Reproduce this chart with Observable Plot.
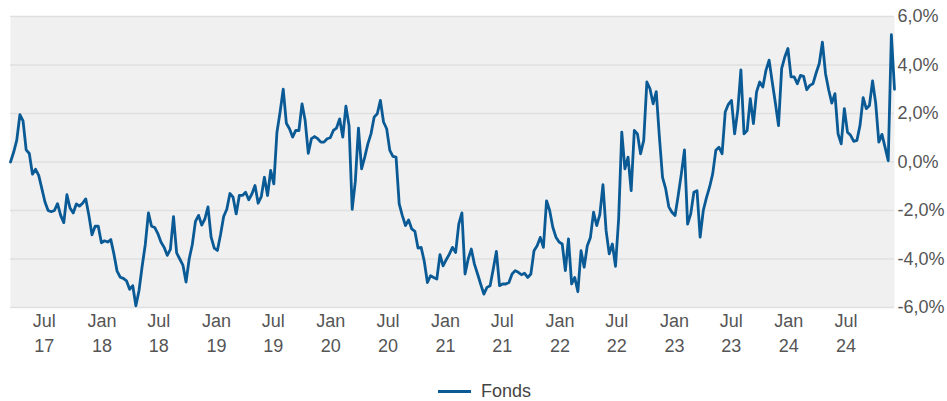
<!DOCTYPE html>
<html>
<head>
<meta charset="utf-8">
<script src="https://cdn.jsdelivr.net/npm/d3@7"></script>
<script src="https://cdn.jsdelivr.net/npm/@observablehq/plot@0.6"></script>
<style>
  html, body { margin: 0; padding: 0; background: #fff; }
  #chart { width: 947px; height: 372px; }
  .legend { height: 18px; line-height: 18px; padding-top: 10px; display: flex; justify-content: center; align-items: center; padding-left: 22px;
            font-family: "Liberation Sans", Arial, sans-serif; font-size: 18px; color: #444; }
  .legend .sw { width: 33px; height: 3px; background: #0a5a96; margin-right: 10px; }
</style>
</head>
<body>
<div id="chart"></div>
<div class="legend"><span class="sw"></span><span>Fonds</span></div>
<script>
// Series: "Fonds", one reading every 10 days starting 2017-03-15 (values in %)
const seriesName = "Fonds";
const startDate = "2017-03-15";
const stepDays = 10;
const fondsValues = [
  0.0, 0.4, 0.9, 1.95, 1.7, 0.5, 0.35, -0.5, -0.3, -0.55,
  -1.1, -1.65, -2.0, -2.05, -2.0, -1.72, -2.2, -2.5, -1.35, -1.9,
  -2.1, -1.73, -1.82, -1.7, -1.52, -2.2, -3.0, -2.65, -2.65, -3.33,
  -3.25, -3.3, -3.2, -3.8, -4.5, -4.75, -4.8, -4.9, -5.25, -5.1,
  -5.93, -5.3, -4.3, -3.4, -2.1, -2.65, -2.7, -2.95, -3.3, -3.52,
  -3.85, -3.6, -2.25, -3.75, -4.0, -4.25, -4.95, -4.0, -3.4, -2.45,
  -2.2, -2.6, -2.35, -1.85, -3.1, -3.55, -3.65, -3.0, -2.25, -1.95,
  -1.3, -1.45, -2.14, -1.38, -1.38, -1.25, -1.56, -1.32, -0.97, -1.7,
  -1.43, -0.63, -1.38, -0.35, -0.9, 1.23, 2.06, 3.0, 1.6, 1.37,
  1.03, 1.3, 1.3, 2.4, 1.71, 0.36, 0.96, 1.05, 0.96, 0.82,
  0.82, 0.96, 1.0, 1.3, 1.4, 1.78, 1.03, 2.3, 1.5, -1.95,
  -0.8, 1.4, -0.28, 0.2, 0.75, 1.16, 1.85, 1.99, 2.54, 1.65,
  1.37, 0.48, 0.23, 0.2, -1.73, -2.21, -2.62, -2.39, -2.76, -2.86,
  -3.55, -3.52, -4.1, -4.97, -4.69, -4.76, -4.83, -3.82, -4.28, -4.03,
  -3.8, -3.52, -3.73, -2.56, -2.1, -4.62, -4.0, -3.59, -4.21, -4.62,
  -5.04, -5.45, -5.17, -5.1, -4.41, -3.69, -5.1, -5.03, -5.03, -4.97,
  -4.62, -4.48, -4.55, -4.65, -4.59, -4.76, -4.62, -3.66, -3.45, -3.11,
  -3.52, -1.6, -2.0, -2.69, -3.1, -3.3, -3.38, -4.48, -3.17, -5.03,
  -4.76, -5.35, -3.66, -4.34, -3.45, -3.11, -2.07, -2.62, -2.17, -0.93,
  -2.83, -3.79, -3.38, -4.3, -2.35, 1.23, -0.28, 0.2, -1.18, 1.3,
  1.16, 0.34, 0.89, 3.3, 3.02, 2.4, 2.9, 1.03, -0.63, -1.1,
  -1.85, -2.07, -2.21, -1.38, -0.49, 0.5, -2.56, -2.14, -1.25, -1.18,
  -3.1, -2.0, -1.48, -1.04, -0.49, 0.48, 0.61, 0.34, 2.06, 2.38,
  2.54, 1.16, 2.13, 3.8, 1.16, 1.3, 2.61, 1.58, 2.89, 3.3,
  3.09, 3.78, 4.2, 3.3, 2.43, 1.5, 3.85, 4.33, 4.68, 3.51,
  3.51, 3.23, 3.57, 3.53, 2.98, 3.16, 3.23, 3.67, 4.06, 4.94,
  3.64, 2.98, 2.43, 2.82, 1.16, 0.75, 2.2, 1.23, 1.1, 0.85,
  0.89, 1.51, 2.65, 2.2, 2.33, 3.34, 2.43, 0.82, 1.14, 0.6,
  0.05, 5.25, 3.0
];
const yTicks = [-6, -4, -2, 0, 2, 4, 6];
const monthNames = {0: "Jan", 6: "Jul"};

const start = new Date(startDate + "T00:00:00Z");
const data = fondsValues.map((v, i) => ({date: d3.utcDay.offset(start, i * stepDays), value: v, series: seriesName}));

const fmtY = d => d.toFixed(1).replace(".", ",") + "%";
const fmtX = d => `${monthNames[d.getUTCMonth()] ?? d3.utcFormat("%b")(d)}\n${d3.utcFormat("%y")(d)}`;

const chart = Plot.plot({
  width: 947,
  height: 372,
  marginTop: 16,
  marginBottom: 65,
  marginLeft: 10,
  marginRight: 53,
  style: {fontFamily: "'Liberation Sans', Arial, sans-serif", fontSize: "18px", color: "#555", background: "#fff"},
  x: {type: "utc", domain: [data[0].date, data[data.length - 1].date]},
  y: {domain: [-6, 6]},
  marks: [
    Plot.frame({fill: "#f0f0f0", stroke: null}),
    Plot.gridY(yTicks, {stroke: "#e0e0e0", strokeOpacity: 1, strokeWidth: 1.5}),
    Plot.axisY(yTicks, {anchor: "right", label: null, tickSize: 0, tickPadding: 3, tickFormat: fmtY, fill: "#555", fontSize: 18}),
    Plot.axisX({ticks: d3.utcMonth.every(6), label: null, tickSize: 0, tickPadding: 2, tickFormat: fmtX, lineHeight: 1.39, fill: "#555", fontSize: 18}),
    Plot.lineY(data, {x: "date", y: "value", stroke: "#0a5a96", strokeWidth: 2.8, strokeLinejoin: "round"})
  ]
});
document.getElementById("chart").appendChild(chart);
</script>
</body>
</html>
